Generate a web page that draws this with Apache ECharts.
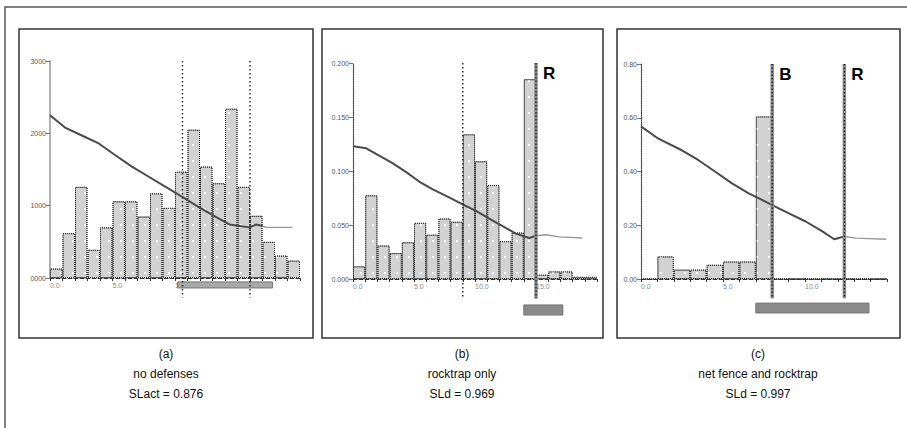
<!DOCTYPE html>
<html><head><meta charset="utf-8">
<script src="https://cdn.jsdelivr.net/npm/echarts@6/dist/echarts.min.js"></script>
<style>html,body{margin:0;padding:0;background:#fff}#c{width:907px;height:428px}</style>
</head><body><div id="c"></div>
<script>
// ---------- Panel (a): no defenses ----------
const aBars = [130, 620, 1260, 390, 700, 1060, 1060, 850, 1170, 970, 1470, 2050, 1540, 1310, 2340, 1260, 860, 500, 310, 240];
const aLine = [[0, 2250], [1.2, 2080], [2.55, 1970], [3.9, 1860], [5.2, 1700], [6.55, 1540], [7.9, 1400], [9.25, 1260], [10.6, 1120], [11.9, 980], [13.3, 840], [14.35, 740], [15.95, 700], [16.5, 740], [17.0, 720]];
const aTail = [[17.0, 720], [17.3, 700], [19.4, 700]];
const aDots = [10.6, 16.0];
const aZone = [10.2, 17.8];
const aYLabels = ['0000', '1000', '2000', '3000'];
const aXLabels = ['0.0', '5.0', '10.0', '15.0', ''];
const aCaption = ['(a)', 'no defenses', 'SLact = 0.876'];

// ---------- Panel (b): rocktrap only ----------
const bBars = [0.0117, 0.0775, 0.031, 0.024, 0.034, 0.052, 0.041, 0.056, 0.053, 0.134, 0.109, 0.087, 0.035, 0.043, 0.185, 0.004, 0.007, 0.007, 0.002, 0.002];
const bLine = [[0, 0.123], [1.09, 0.121], [2.18, 0.114], [3.27, 0.107], [4.36, 0.099], [5.45, 0.090], [6.54, 0.083], [7.63, 0.077], [9.0, 0.069], [10.08, 0.063], [11.17, 0.056], [12.26, 0.049], [13.35, 0.042], [14.44, 0.038], [15.0, 0.040]];
const bTail = [[15.0, 0.040], [15.8, 0.041], [16.9, 0.039], [18.8, 0.038]];
const bDots = [9.0];
const bWalls = [15.0];
const bWallLabels = ['R'];
const bZone = [14.0, 17.2];
const bYLabels = ['0.000', '0.050', '0.100', '0.150', '0.200'];
const bXLabels = ['0.0', '5.0', '10.0', '15.0', ''];
const bCaption = ['(b)', 'rocktrap only', 'SLd = 0.969'];

// ---------- Panel (c): net fence and rocktrap ----------
const cBars = [0, 0.084, 0.035, 0.035, 0.053, 0.065, 0.065, 0.605, 0, 0, 0, 0, 0, 0, 0];
const cLine = [[0, 0.568], [1.06, 0.522], [2.49, 0.479], [3.51, 0.442], [4.53, 0.399], [5.55, 0.356], [6.57, 0.319], [8.0, 0.275], [9.02, 0.244], [10.04, 0.214], [11.06, 0.177], [11.78, 0.148], [12.4, 0.158]];
const cTail = [[12.4, 0.158], [13.1, 0.152], [14.94, 0.148]];
const cWalls = [8.0, 12.4];
const cWallLabels = ['B', 'R'];
const cZone = [7.0, 13.9];
const cYLabels = ['0.00', '0.20', '0.40', '0.60', '0.80'];
const cXLabels = ['0.0', '5.0', '10.0', ''];
const cCaption = ['(c)', 'net fence and rocktrap', 'SLd = 0.997'];

const panels = [
  { grid: {left: 50, top: 61, width: 250, height: 217}, bars: aBars, line: aLine, tail: aTail, yMax: 3000, yInt: 1000, yLabels: aYLabels, xLabels: aXLabels, dots: aDots, walls: [], wallLabels: [], zone: aZone, zoneY: [0.018, 0.046], zoneColor: '#a8a8a8', yAxisLine: {color: '#b0b0b0', width: 2, type: 'solid'}, caption: aCaption, cx: 166 },
  { grid: {left: 353, top: 63, width: 244, height: 216}, bars: bBars, line: bLine, tail: bTail, yMax: 0.2, yInt: 0.05, yLabels: bYLabels, xLabels: bXLabels, dots: bDots, walls: bWalls, wallLabels: bWallLabels, zone: bZone, zoneY: [0.12, 0.167], zoneColor: '#8a8a8a', yAxisLine: {color: '#444', width: 1.2, type: 'dotted'}, caption: bCaption, cx: 462 },
  { grid: {left: 641, top: 64, width: 246, height: 215}, bars: cBars, line: cLine, tail: cTail, yMax: 0.8, yInt: 0.2, yLabels: cYLabels, xLabels: cXLabels, dots: [], walls: cWalls, wallLabels: cWallLabels, zone: cZone, zoneY: [0.112, 0.158], zoneColor: '#8a8a8a', yAxisLine: {color: '#444', width: 1.2, type: 'dotted'}, caption: cCaption, cx: 758 }
];

const FONT = 'Liberation Sans, Arial, sans-serif';
const grids = [], xAxes = [], yAxes = [], series = [], graphics = [];

graphics.push({type: 'rect', shape: {x: 5, y: 7, width: 930, height: 440}, style: {fill: 'none', stroke: '#555', lineWidth: 1.5}, silent: true});
[[19, 29, 294, 309], [322, 29, 281, 309], [617, 29, 283, 309]].forEach(r => {
  graphics.push({type: 'rect', shape: {x: r[0], y: r[1], width: r[2], height: r[3]}, style: {fill: 'none', stroke: '#333', lineWidth: 1.5}, silent: true});
});

panels.forEach((p, i) => {
  const n = p.bars.length;
  grids.push(Object.assign({containLabel: false}, p.grid));
  const catIdx = xAxes.length;
  xAxes.push({
    type: 'category', gridIndex: i, position: 'bottom', data: p.bars.map((_, k) => String(k)),
    boundaryGap: true,
    axisLine: {show: true, lineStyle: {color: '#333', width: 1, type: 'dashed'}},
    axisTick: {show: true, length: 3, interval: 0, lineStyle: {color: '#333'}},
    axisLabel: {show: false}, splitLine: {show: false}
  });
  const valIdx = xAxes.length;
  xAxes.push({
    type: 'value', gridIndex: i, position: 'bottom', min: 0, max: n, interval: 5,
    axisLine: {show: false}, axisTick: {show: false}, splitLine: {show: false},
    axisLabel: {show: true, fontSize: 7, color: '#888', margin: 4, align: 'left', fontFamily: FONT,
      formatter: v => p.xLabels[Math.round(v / 5)] || ''}
  });
  const yIdx = yAxes.length;
  yAxes.push({
    type: 'value', gridIndex: i, min: 0, max: p.yMax, interval: p.yInt,
    axisLine: {show: true, lineStyle: p.yAxisLine},
    axisTick: {show: true, length: 4, lineStyle: {color: '#777'}},
    splitLine: {show: false},
    axisLabel: {fontSize: 7, color: '#555', margin: 4, fontFamily: FONT,
      formatter: v => p.yLabels[Math.round(v / p.yInt)]}
  });

  series.push({
    type: 'bar', xAxisIndex: catIdx, yAxisIndex: yIdx, data: p.bars, barCategoryGap: '0%', barGap: '0%',
    itemStyle: {color: '#d2d2d2', borderColor: '#2a2a2a', borderWidth: 1, borderType: 'dotted',
      decal: {symbol: 'rect', symbolSize: 1, color: 'rgba(255,255,255,0.9)', dashArrayX: [2, 10], dashArrayY: [2, 14]}},
    silent: true, z: 2
  });
  series.push({
    type: 'line', xAxisIndex: valIdx, yAxisIndex: yIdx, data: p.line, symbol: 'none',
    lineStyle: {color: '#4a4a4a', width: 2}, silent: true, z: 5
  });
  series.push({
    type: 'line', xAxisIndex: valIdx, yAxisIndex: yIdx, data: p.tail, symbol: 'none',
    lineStyle: {color: '#999', width: 1.4}, silent: true, z: 4
  });
  // hatched zone under the axis
  series.push({
    type: 'custom', xAxisIndex: valIdx, yAxisIndex: yIdx, clip: false, silent: true, z: 3,
    data: [p.zone],
    renderItem: (params, api) => {
      const a = api.coord([api.value(0), -p.yMax * p.zoneY[0]]);
      const b = api.coord([api.value(1), -p.yMax * p.zoneY[1]]);
      return {type: 'rect', shape: {x: a[0], y: a[1], width: b[0] - a[0], height: b[1] - a[1]},
        style: {fill: p.zoneColor, stroke: '#777', lineWidth: 1}};
    }
  });
  // dotted dividers
  if (p.dots.length) series.push({
    type: 'custom', xAxisIndex: valIdx, yAxisIndex: yIdx, clip: false, silent: true, z: 6,
    data: p.dots.map(x => [x]),
    renderItem: (params, api) => {
      const t = api.coord([api.value(0), p.yMax]);
      const b = api.coord([api.value(0), -p.yMax * 0.09]);
      return {type: 'line', shape: {x1: t[0], y1: t[1], x2: b[0], y2: b[1]},
        style: {stroke: '#222', lineWidth: 1.4, lineDash: [1.5, 2.5]}};
    }
  });
  // walls (R / B)
  if (p.walls.length) series.push({
    type: 'custom', xAxisIndex: valIdx, yAxisIndex: yIdx, clip: false, silent: true, z: 7,
    data: p.walls.map(x => [x]),
    renderItem: (params, api) => {
      const t = api.coord([api.value(0), p.yMax]);
      const b = api.coord([api.value(0), -p.yMax * 0.09]);
      return {type: 'group', children: [
        {type: 'line', shape: {x1: t[0], y1: t[1], x2: b[0], y2: b[1]}, style: {stroke: '#8a8a8a', lineWidth: 3.5}},
        {type: 'line', shape: {x1: t[0], y1: t[1], x2: b[0], y2: b[1]}, style: {stroke: '#111', lineWidth: 1.2, lineDash: [1.5, 2]}},
        {type: 'text', x: t[0] + 7, y: t[1] + 2, style: {text: p.wallLabels[params.dataIndex], font: 'bold 17px ' + FONT, fill: '#000', align: 'left', verticalAlign: 'top'}}
      ]};
    }
  });
  graphics.push({type: 'text', x: p.cx, y: 344, silent: true,
    style: {text: p.caption.join('\n'), font: '12px ' + FONT, fill: '#111', align: 'center', verticalAlign: 'top', lineHeight: 20}});
});

const chart = echarts.init(document.getElementById('c'), null, {renderer: 'svg'});
chart.setOption({
  animation: false,
  backgroundColor: '#fff',
  grid: grids, xAxis: xAxes, yAxis: yAxes, series: series, graphic: graphics
});
</script></body></html>
